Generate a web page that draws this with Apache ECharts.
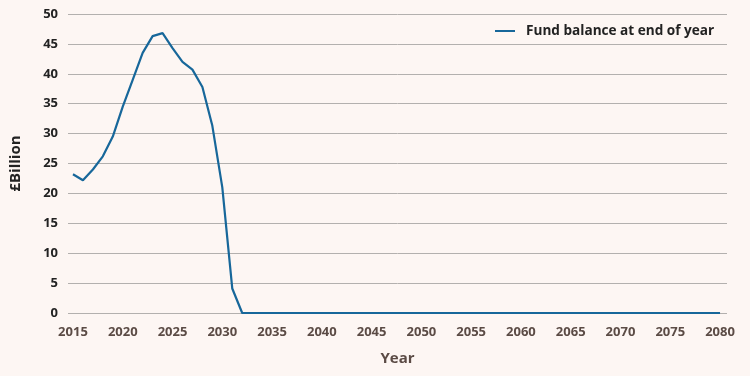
<!DOCTYPE html>
<html>
<head>
<meta charset="utf-8">
<script src="https://cdn.jsdelivr.net/npm/echarts@6/dist/echarts.min.js"></script>
<style>
  html, body { margin: 0; padding: 0; background: #fdf6f3; }
  #chart { width: 750px; height: 376px; }
</style>
</head>
<body>
<div id="chart"></div>
<script>
// Years on the x axis
const years = [
  2015, 2016, 2017, 2018, 2019, 2020, 2021, 2022, 2023, 2024, 2025,
  2026, 2027, 2028, 2029, 2030, 2031, 2032, 2033, 2034, 2035, 2036,
  2037, 2038, 2039, 2040, 2041, 2042, 2043, 2044, 2045, 2046, 2047,
  2048, 2049, 2050, 2051, 2052, 2053, 2054, 2055, 2056, 2057, 2058,
  2059, 2060, 2061, 2062, 2063, 2064, 2065, 2066, 2067, 2068, 2069,
  2070, 2071, 2072, 2073, 2074, 2075, 2076, 2077, 2078, 2079, 2080
]

// Fund balance at end of year, £ billion
const fundBalance = [
  23.2, 22.2, 24.0, 26.2, 29.5, 34.5, 39.0, 43.5, 46.3, 46.8, 44.3,
  42.0, 40.7, 37.8, 31.3, 21.0, 4.1, 0, 0, 0, 0, 0,
  0, 0, 0, 0, 0, 0, 0, 0, 0, 0, 0,
  0, 0, 0, 0, 0, 0, 0, 0, 0, 0, 0,
  0, 0, 0, 0, 0, 0, 0, 0, 0, 0, 0,
  0, 0, 0, 0, 0, 0, 0, 0, 0, 0, 0
]

const xTicks = [2015, 2020, 2025, 2030, 2035, 2040, 2045, 2050, 2055, 2060, 2065, 2070, 2075, 2080]

const chart = echarts.init(document.getElementById('chart'))

chart.setOption({
  backgroundColor: '#fdf6f3',
  animation: false,
  grid: { left: 63, right: 23, top: 14, bottom: 63 },
  legend: {
    data: ['Fund balance at end of year'],
    left: 490,
    top: 19,
    icon: 'rect',
    itemWidth: 20,
    itemHeight: 2,
    textStyle: { fontFamily: 'Open Sans', fontWeight: 'bold', fontSize: 13.6, color: '#222', padding: [0, 0, 0, 6] }
  },
  xAxis: {
    type: 'value',
    min: 2014.5,
    max: 2080.7,
    name: 'Year',
    nameLocation: 'middle',
    nameGap: 38,
    nameTextStyle: { fontFamily: 'Open Sans', fontWeight: 'bold', fontSize: 15, color: '#5b4b45' },
    axisLine: { show: false },
    axisTick: { show: false },
    splitLine: { show: false },
    axisLabel: {
      customValues: xTicks,
      margin: 13,
      fontFamily: 'Open Sans',
      fontWeight: 'bold',
      fontSize: 13,
      color: '#5b4b45',
      formatter: (v) => String(v)
    }
  },
  yAxis: {
    type: 'value',
    min: 0,
    max: 50,
    interval: 5,
    name: '£Billion',
    nameLocation: 'middle',
    nameGap: 45,
    nameRotate: 90,
    nameTextStyle: { fontFamily: 'Open Sans', fontWeight: 'bold', fontSize: 15, color: '#222' },
    axisLine: { show: false },
    axisTick: { show: false },
    axisLabel: {
      margin: 10,
      fontFamily: 'Open Sans',
      fontWeight: 'bold',
      fontSize: 13,
      color: '#222'
    },
    splitLine: { lineStyle: { color: '#b3b0ae', width: 1 } }
  },
  series: [
    {
      name: 'Fund balance at end of year',
      type: 'line',
      data: years.map((y, i) => [y, fundBalance[i]]),
      showSymbol: false,
      symbol: 'none',
      lineStyle: { color: '#17679a', width: 2.2 },
      itemStyle: { color: '#17679a' }
    }
  ]
})
</script>
</body>
</html>
